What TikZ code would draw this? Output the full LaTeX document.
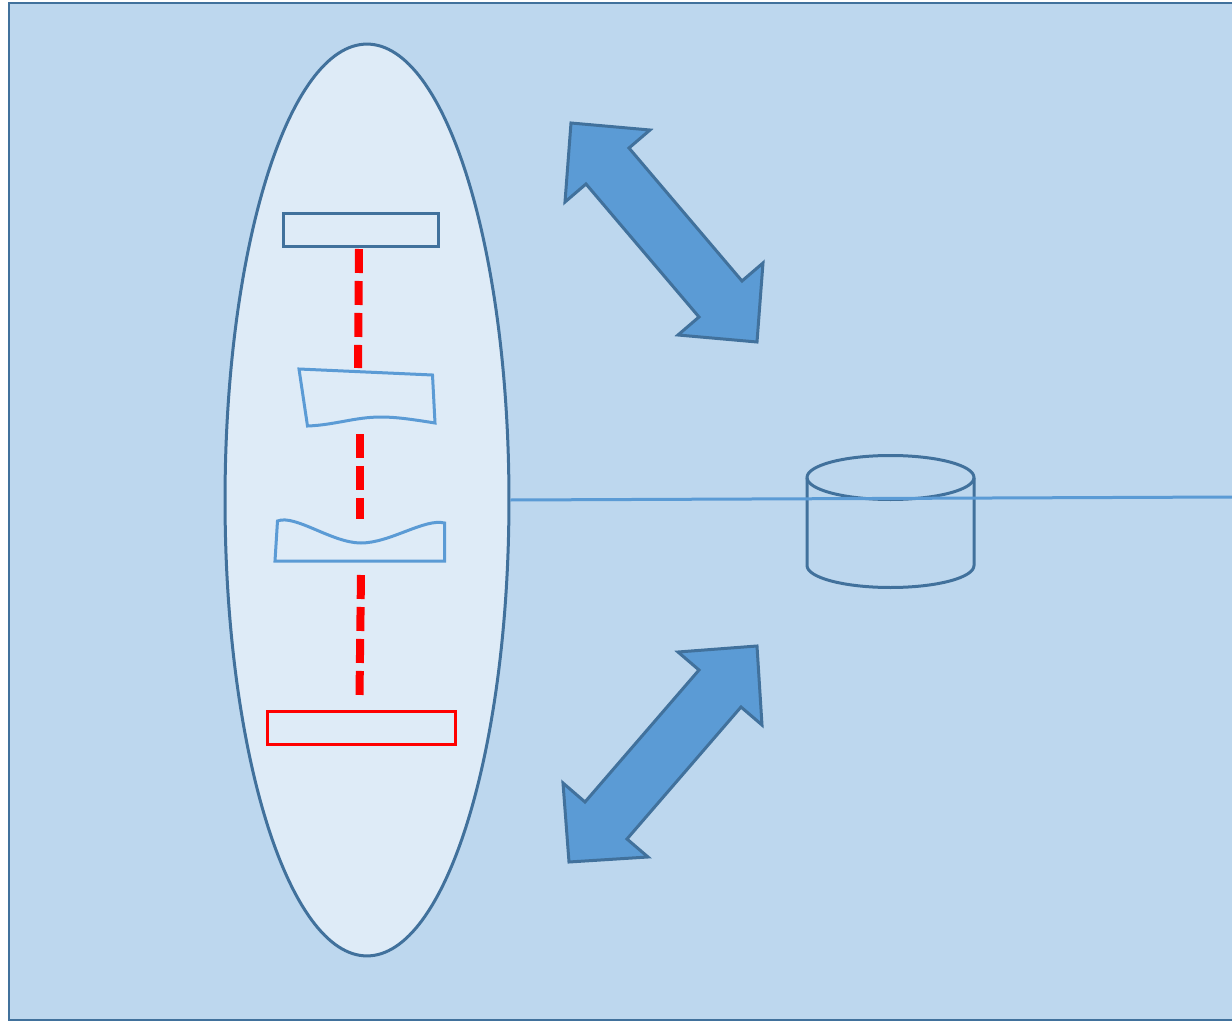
\documentclass[tikz,border=0pt]{standalone}
\usetikzlibrary{shapes.geometric}
\definecolor{frameblue}{HTML}{41719C}
\definecolor{lineblue}{HTML}{5B9BD5}
\definecolor{backblue}{HTML}{BDD7EE}
\definecolor{lensblue}{HTML}{DEEBF7}
\begin{document}
\begin{tikzpicture}
        [x=0.02cm, y=-0.02cm,
        frame/.style={draw=frameblue, line width=0.06cm, fill=backblue},
        lens/.style={ellipse, draw=frameblue, line width=0.06cm, fill=lensblue, inner sep=0, minimum width=5.68cm, minimum height=18.24cm},
        slab/.style={rectangle, line width=0.06cm, inner sep=0},
        surface/.style={draw=lineblue, line width=0.06cm, line join=miter},
        beam/.style={red, line width=0.16cm, dash pattern=on 0.48cm off 0.16cm},
        axis/.style={lineblue, line width=0.06cm},
        can/.style={draw=frameblue, line width=0.06cm, line join=round},
        bigarrow/.style={draw=frameblue, line width=0.06cm, fill=lineblue, line join=miter}]

        \useasboundingbox (0,0) rectangle (1232,1021);

        % background panel, runs off the right side
        \draw[frame] (9,3) rectangle (1250,1020);

        % lens and the parts inside it
        \node[lens] (lens) at (367,500) {};
        \node[slab, draw=frameblue, minimum width=3.12cm, minimum height=0.68cm] (top) at (361,230) {};
        \node[slab, draw=red, minimum width=3.78cm, minimum height=0.66cm] (bottom) at (361.5,727.5) {};

        % the two curved pieces
        \draw[surface] (299,369) -- (432.5,375) -- (435,423)
            .. controls (410,419) and (395,417) .. (381,417)
            .. controls (355,417) and (335,425) .. (307.5,426) -- cycle;
        \draw[surface] (275,561) -- (444.5,561) -- (444.5,523)
            .. controls (425,518) and (390,543) .. (361,543)
            .. controls (332,543) and (295,514) .. (277.5,521) -- cycle;

        % red dashed beam
        \coordinate (b1) at (359,249);
        \coordinate (b2) at (358,368);
        \coordinate (b3) at (359.5,434);
        \coordinate (b4) at (359.5,519);
        \coordinate (b5) at (361,575);
        \coordinate (b6) at (359.5,695);
        \draw[beam] (b1) -- (b2);
        \draw[beam] (b3) -- (b4);
        \draw[beam] (b5) -- (b6);

        % cylinder
        \draw[can] (807,477.5) -- (807,565.5) arc[start angle=180, end angle=360, x radius=83.5, y radius=-22] -- (974,477.5);
        \draw[can] (890.5,477.5) ellipse [x radius=83.5, y radius=22];

        % axis line
        \coordinate (rim) at (1232,497);
        \draw[axis] (lens.east) -- (rim);

        % double arrows
        \draw[bigarrow] (571,123) -- (650,130) -- (629,148) -- (742,281) -- (763,263) -- (757,342)
            -- (678,335) -- (699,317) -- (586,184) -- (565,202) -- cycle;
        \draw[bigarrow] (757,646) -- (762,725) -- (741,707) -- (627,839) -- (648,857) -- (569,862)
            -- (563,783) -- (585,802) -- (699,670) -- (678,652) -- cycle;

\end{tikzpicture}
\end{document}
